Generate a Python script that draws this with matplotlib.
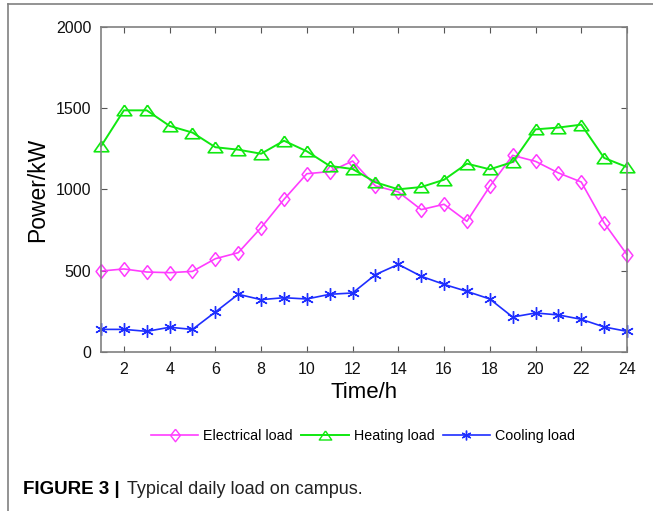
import matplotlib
matplotlib.use("Agg")
import matplotlib.pyplot as plt
from matplotlib.lines import Line2D

plt.rcParams["font.family"] = ["Liberation Sans", "DejaVu Sans"]

hours = list(range(1, 25))
electrical = [498, 511, 492, 488, 496, 574, 611, 765, 939, 1097, 1110, 1175,
              1022, 985, 876, 909, 804, 1019, 1210, 1173, 1102, 1046, 794, 599]
heating = [1266, 1487, 1487, 1391, 1350, 1260, 1245, 1220, 1300, 1235, 1145, 1126,
           1044, 1001, 1015, 1060, 1159, 1124, 1169, 1370, 1381, 1399, 1194, 1138]
cooling = [139, 139, 127, 152, 139, 246, 355, 322, 334, 326, 355, 363,
           476, 539, 466, 416, 373, 326, 215, 240, 228, 201, 154, 127]

x_ticks = list(range(2, 25, 2))
y_ticks = [0, 500, 1000, 1500, 2000]

fig = plt.figure(figsize=(6.53, 5.11), dpi=100)
ax = fig.add_axes([0.1547, 0.3112, 0.8055, 0.636])

mag = "#ff3cff"
grn = "#10e810"
blu = "#1e2eff"
diamond = [(0, 1), (0.78, 0), (0, -1), (-0.78, 0), (0, 1)]
tri = [(0, 0.72), (1, -0.72), (-1, -0.72), (0, 0.72)]
star = (6, 2, 0)

ax.plot(hours, electrical, color=mag, marker=diamond, markersize=10, markerfacecolor="none",
        markeredgecolor=mag, markeredgewidth=1.1, lw=1.2, label="Electrical load", clip_on=False)
ax.plot(hours, heating, color=grn, marker=tri, markersize=10.5, markerfacecolor="none",
        markeredgecolor=grn, markeredgewidth=1.2, lw=1.4, label="Heating load", clip_on=False)
ax.plot(hours, cooling, color=blu, marker=star, markersize=9, markeredgewidth=1.0,
        markeredgecolor=blu, lw=1.2, label="Cooling load", clip_on=False)

ax.set_xlim(1, 24)
ax.set_ylim(0, 2000)
ax.set_xticks(x_ticks)
ax.set_yticks(y_ticks)
ax.tick_params(direction="in", top=True, right=True, labelsize=11.5, length=4,
               color="#555555", labelcolor="#111111", pad=7)
for s in ax.spines.values():
    s.set_color("#808080")
    s.set_linewidth(1.2)

ax.set_xlabel("Time/h", fontsize=16, labelpad=4)
ax.set_ylabel("Power/kW", fontsize=16.5, labelpad=5)

handles = [
    Line2D([], [], color=mag, marker=diamond, markersize=9, markerfacecolor="none", lw=1.2),
    Line2D([], [], color=grn, marker=tri, markersize=9, markerfacecolor="none", lw=1.4),
    Line2D([], [], color=blu, marker=star, markersize=7, lw=1.2),
]
fig.legend(handles, ["Electrical load", "Heating load", "Cooling load"],
           loc="center", bbox_to_anchor=(363 / 653, 1 - 436 / 511), ncol=3, frameon=False,
           fontsize=10.3, handlelength=3.3, columnspacing=0.6, handletextpad=0.35)

fig.text(23 / 653, 1 - 489 / 511, "FIGURE 3 |", fontsize=13.5, fontweight="bold",
         va="center", ha="left")
fig.text(127 / 653, 1 - 489 / 511, "Typical daily load on campus.", fontsize=13,
         va="center", ha="left", color="#222222")

# frame around the figure (top and left edges)
fig.add_artist(Line2D([8 / 653, 8 / 653], [0, 1 - 4.5 / 511], transform=fig.transFigure,
                      color="#808080", lw=1.2))
fig.add_artist(Line2D([8 / 653, 1], [1 - 4.5 / 511, 1 - 4.5 / 511], transform=fig.transFigure,
                      color="#808080", lw=1.2))

fig.savefig("out.png", dpi=100)
